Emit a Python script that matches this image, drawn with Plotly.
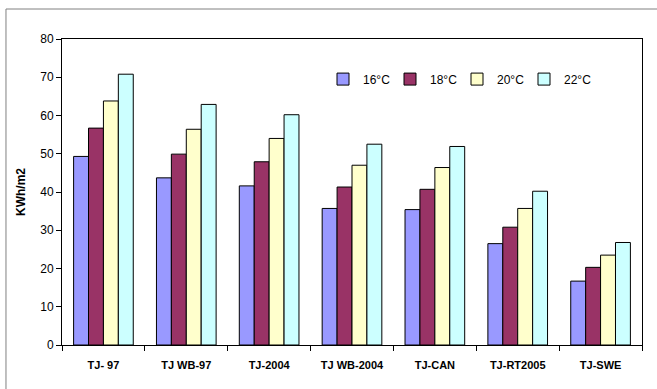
import plotly.graph_objects as go

categories = ["TJ- 97", "TJ WB-97", "TJ-2004", "TJ WB-2004", "TJ-CAN", "TJ-RT2005", "TJ-SWE"]
series_names = ["16°C", "18°C", "20°C", "22°C"]
values_16 = [49.3, 43.7, 41.6, 35.7, 35.4, 26.5, 16.7]
values_18 = [56.7, 49.9, 47.9, 41.3, 40.7, 30.8, 20.3]
values_20 = [63.8, 56.4, 54.0, 47.0, 46.4, 35.7, 23.5]
values_22 = [70.8, 62.9, 60.2, 52.5, 51.9, 40.2, 26.8]
colors = ["#9999FF", "#993366", "#FFFFCC", "#CCFFFF"]

fig = go.Figure()
for name, vals, col in zip(series_names, [values_16, values_18, values_20, values_22], colors):
    fig.add_trace(go.Bar(
        x=categories, y=vals, name=name,
        marker=dict(color=col, line=dict(color="#000000", width=1)),
    ))

font_family = "Liberation Sans, Arial, sans-serif"

fig.update_layout(
    width=657, height=389,
    margin=dict(l=62, r=15, t=39, b=44, autoexpand=False),
    paper_bgcolor="white", plot_bgcolor="white",
    barmode="group", bargap=0.28, bargroupgap=0,
    font=dict(family=font_family, color="#000000", size=12),
    showlegend=True,
    legend=dict(
        orientation="h", x=0.45, xanchor="left", y=0.869, yanchor="middle",
        font=dict(size=12), entrywidth=22, entrywidthmode="pixels",
        bgcolor="rgba(0,0,0,0)", itemwidth=30, tracegroupgap=0,
    ),
    xaxis=dict(
        showline=True, linecolor="#000000", linewidth=1, mirror=True,
        ticks="outside", tickson="boundaries", ticklen=5, tickcolor="#000000",
        tickfont=dict(size=11, family="Liberation Sans, Arial", weight="bold"),
        ticklabelstandoff=10, showgrid=False,
    ),
    yaxis=dict(
        range=[0, 80], dtick=10, showline=True, linecolor="#000000", linewidth=1,
        mirror=True, ticks="outside", ticklen=5, tickcolor="#000000",
        tickfont=dict(size=12), showgrid=False, zeroline=False,
        title=dict(text="KWh/m2", font=dict(size=12, weight="bold"), standoff=12),
    ),
    shapes=[dict(
        type="rect", xref="paper", yref="paper",
        x0=-0.0966, x1=1.2, y0=-0.2, y1=1.098,
        line=dict(color="#808080", width=1), fillcolor="rgba(0,0,0,0)", layer="below",
    )],
)

fig.write_html("out.html")
